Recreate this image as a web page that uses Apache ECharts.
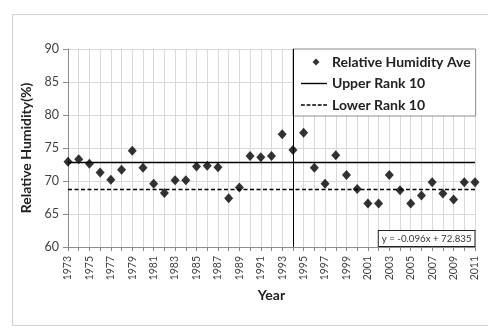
<!DOCTYPE html>
<html>
<head>
<meta charset="utf-8">
<script src="https://cdn.jsdelivr.net/npm/echarts@6/dist/echarts.min.js"></script>
<style>
  html, body { margin: 0; padding: 0; background: #fff; }
  #chart { width: 488px; height: 328px; }
</style>
</head>
<body>
<div id="chart"></div>
<script>
// Annual mean relative humidity, 1973-2011
const years = [1973, 1974, 1975, 1976, 1977, 1978, 1979, 1980, 1981, 1982,
               1983, 1984, 1985, 1986, 1987, 1988, 1989, 1990, 1991, 1992,
               1993, 1994, 1995, 1996, 1997, 1998, 1999, 2000, 2001, 2002,
               2003, 2004, 2005, 2006, 2007, 2008, 2009, 2010, 2011];
const humidity = [72.9, 73.3, 72.6, 71.3, 70.2, 71.7, 74.6, 72.0, 69.6, 68.2,
                  70.1, 70.1, 72.2, 72.3, 72.1, 67.4, 69.0, 73.8, 73.6, 73.8,
                  77.1, 74.7, 77.3, 72.0, 69.6, 73.9, 70.9, 68.8, 66.6, 66.6,
                  70.9, 68.6, 66.6, 67.8, 69.8, 68.1, 67.2, 69.8, 69.8];
const upperRank10 = 72.8;
const lowerRank10 = 68.7;
const splitYear = 1994;
const trendText = 'y = -0.096x + 72.835';
const yTicks = [60, 65, 70, 75, 80, 85, 90];

const FONT = 'Lato, "Open Sans", sans-serif';
const firstYear = years[0];
const lastYear = years[years.length - 1];

// Legend icons drawn inside a fixed 26x14 box (the leading moves pin the box size)
const BOX = 'M0,0M26,14';
const ICON_DIAMOND = 'path://' + BOX + 'M15,3.5L18.5,7L15,10.5L11.5,7Z';
const ICON_SOLID = 'path://' + BOX + 'M0,6.3H26V7.7H0Z';
const ICON_DASHED = 'path://' + BOX +
  'M0,6.3h3.8v1.4h-3.8Z M5.6,6.3h3.8v1.4h-3.8Z M11.2,6.3h3.8v1.4h-3.8Z' +
  'M16.8,6.3h3.8v1.4h-3.8Z M22.2,6.3h3.8v1.4h-3.8Z';

const chart = echarts.init(document.getElementById('chart'));
chart.setOption({
  animation: false,
  backgroundColor: '#ffffff',
  textStyle: { fontFamily: FONT },
  grid: { left: 68, right: 13, top: 49, bottom: 81 },
  xAxis: {
    type: 'value',
    min: firstYear,
    max: lastYear,
    interval: 1,
    name: 'Year',
    nameLocation: 'middle',
    nameGap: 38,
    nameTextStyle: { fontFamily: FONT, fontWeight: 'bold', fontSize: 14, color: '#222' },
    axisLine: { lineStyle: { color: '#8c8c8c' } },
    axisTick: { show: true, length: 4, lineStyle: { color: '#8c8c8c' } },
    axisLabel: {
      rotate: 90,
      fontSize: 10.5,
      color: '#404040',
      margin: 9,
      formatter: v => ((v - firstYear) % 2 === 0 ? String(v) : '')
    },
    splitLine: { show: true, lineStyle: { color: '#d9d9d9' } }
  },
  yAxis: {
    type: 'value',
    min: yTicks[0],
    max: yTicks[yTicks.length - 1],
    interval: 5,
    name: 'Relative Humidity(%)',
    nameLocation: 'middle',
    nameGap: 27,
    nameTextStyle: { fontFamily: FONT, fontWeight: 'bold', fontSize: 14, color: '#222' },
    axisLine: { show: true, lineStyle: { color: '#8c8c8c' } },
    axisTick: { show: true, length: 5, lineStyle: { color: '#8c8c8c' } },
    axisLabel: { fontSize: 12.5, color: '#404040', margin: 9 },
    splitLine: { show: true, lineStyle: { color: '#d9d9d9' } }
  },
  legend: {
    orient: 'vertical',
    left: 293,
    top: 49,
    padding: [6, 5, 4, 8],
    itemGap: 7.5,
    itemWidth: 26,
    itemHeight: 14,
    backgroundColor: '#ffffff',
    borderColor: '#8c8c8c',
    borderWidth: 1,
    borderRadius: 0,
    textStyle: { fontFamily: FONT, fontWeight: 'bold', fontSize: 14, color: '#222' },
    data: [
      { name: 'Relative Humidity Ave', icon: ICON_DIAMOND },
      { name: 'Upper Rank 10', icon: ICON_SOLID },
      { name: 'Lower Rank 10', icon: ICON_DASHED }
    ]
  },
  series: [
    {
      name: 'Relative Humidity Ave',
      type: 'scatter',
      symbol: 'diamond',
      symbolSize: [9, 10],
      itemStyle: { color: '#000000' },
      data: years.map((y, i) => [y, humidity[i]]),
      z: 5,
      markLine: {
        silent: true,
        symbol: 'none',
        label: { show: false },
        lineStyle: { color: '#000000', width: 1, type: 'solid' },
        data: [{ xAxis: splitYear }]
      }
    },
    {
      name: 'Upper Rank 10',
      type: 'line',
      showSymbol: false,
      symbol: 'none',
      lineStyle: { color: '#000000', width: 1.5, type: 'solid' },
      itemStyle: { color: '#000000' },
      data: [[firstYear, upperRank10], [lastYear, upperRank10]],
      z: 3
    },
    {
      name: 'Lower Rank 10',
      type: 'line',
      showSymbol: false,
      symbol: 'none',
      lineStyle: { color: '#000000', width: 1.5, type: [4, 2.5] },
      itemStyle: { color: '#000000' },
      data: [[firstYear, lowerRank10], [lastYear, lowerRank10]],
      z: 3
    }
  ],
  graphic: [
    {
      type: 'rect',
      shape: { x: 12.5, y: 14.5, width: 500, height: 311 },
      style: { fill: 'none', stroke: '#d0d0d0', lineWidth: 1 },
      silent: true,
      z: -10
    },
    {
      type: 'text',
      right: 12.5,
      top: 230,
      z: 100,
      style: {
        text: trendText,
        fontFamily: FONT,
        fontSize: 9.7,
        fill: '#333',
        backgroundColor: '#ffffff',
        borderColor: '#222',
        borderWidth: 1,
        padding: [3, 3, 2, 3]
      }
    }
  ]
});
</script>
</body>
</html>
